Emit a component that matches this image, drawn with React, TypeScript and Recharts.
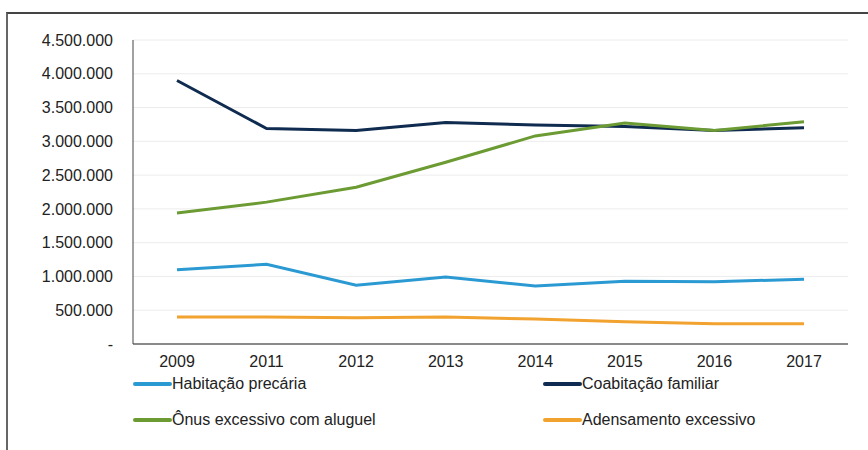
import React from 'react';
import {
  LineChart,
  Line,
  XAxis,
  YAxis,
  CartesianGrid
} from 'recharts';

// Values (households)
const years = ['2009', '2011', '2012', '2013', '2014', '2015', '2016', '2017'];
const habitacaoPrecaria = [1100000, 1180000, 870000, 990000, 860000, 930000, 920000, 960000];
const coabitacaoFamiliar = [3900000, 3190000, 3160000, 3280000, 3240000, 3220000, 3160000, 3200000];
const onusExcessivo = [1940000, 2100000, 2320000, 2690000, 3080000, 3270000, 3160000, 3290000];
const adensamentoExcessivo = [400000, 400000, 390000, 400000, 370000, 330000, 300000, 300000];
const yTicks = [0, 500000, 1000000, 1500000, 2000000, 2500000, 3000000, 3500000, 4000000, 4500000];

const series = [
  { key: 'habitacao', name: 'Habitação precária', color: '#2b9ad3' },
  { key: 'coabitacao', name: 'Coabitação familiar', color: '#0f2b4f' },
  { key: 'onus', name: 'Ônus excessivo com aluguel', color: '#6b9b32' },
  { key: 'adensamento', name: 'Adensamento excessivo', color: '#f2a22e' }
];

const data = years.map((year, i) => ({
  year,
  habitacao: habitacaoPrecaria[i],
  coabitacao: coabitacaoFamiliar[i],
  onus: onusExcessivo[i],
  adensamento: adensamentoExcessivo[i]
}));

const FONT = '"Liberation Sans Narrow", "Arial Narrow", "Liberation Sans", Arial, sans-serif';

// 1500000 -> "1.500.000", 0 -> "-"
const formatTick = (v: number) =>
  v === 0 ? '-' : String(v).replace(/\B(?=(\d{3})+(?!\d))/g, '.');

// legend drawn as plain html under the plot, two columns like the original
const ChartLegend = () => (
  <div
    style={{
      position: 'absolute',
      left: 133,
      top: 374,
      display: 'grid',
      gridTemplateColumns: '410px 300px',
      rowGap: 16,
      fontFamily: FONT,
      fontSize: 16,
      lineHeight: '20px',
      color: '#222'
    }}
  >
    {series.map(s => (
      <div key={s.key} style={{ display: 'flex', alignItems: 'center' }}>
        <span
          style={{
            display: 'inline-block',
            width: 39,
            height: 4,
            borderRadius: 2,
            background: s.color
          }}
        />
        <span>{s.name}</span>
      </div>
    ))}
  </div>
);

const App: React.FC = () => {
  return (
    <div style={{ position: 'absolute', left: 0, top: 0, width: 868, height: 450, background: '#fff', overflow: 'hidden' }}>
      {/* frame of the original figure */}
      <div
        style={{
          position: 'absolute',
          left: 6,
          top: 12,
          width: 870,
          height: 450,
          borderTop: '2px solid #444',
          borderLeft: '2px solid #666'
        }}
      />
      <div style={{ position: 'absolute', left: 0, top: 0 }}>
        <LineChart
          width={868}
          height={450}
          data={data}
          margin={{ top: 40, right: 20, left: 0, bottom: 86 }}
        >
          <CartesianGrid vertical={false} stroke="#ececec" />
          <XAxis
            dataKey="year"
            axisLine={{ stroke: '#8a8a8a', strokeWidth: 2 }}
            tickLine={false}
            tickSize={0}
            tickMargin={12}
            height={20}
            padding={{ left: 44, right: 44 }}
            tick={{ fill: '#222', fontSize: 16, fontFamily: FONT }}
            interval={0}
          />
          <YAxis
            width={133}
            domain={[0, 4500000]}
            ticks={yTicks}
            interval={0}
            tickFormatter={formatTick}
            axisLine={{ stroke: '#444', strokeWidth: 1 }}
            tickLine={false}
            tickSize={0}
            tickMargin={20}
            tick={{ fill: '#222', fontSize: 16, fontFamily: FONT }}
          />
          {series.map(s => (
            <Line
              key={s.key}
              type="linear"
              dataKey={s.key}
              name={s.name}
              stroke={s.color}
              strokeWidth={3}
              dot={false}
              activeDot={false}
              isAnimationActive={false}
            />
          ))}
        </LineChart>
      </div>
      <ChartLegend />
    </div>
  );
};

export default App;
